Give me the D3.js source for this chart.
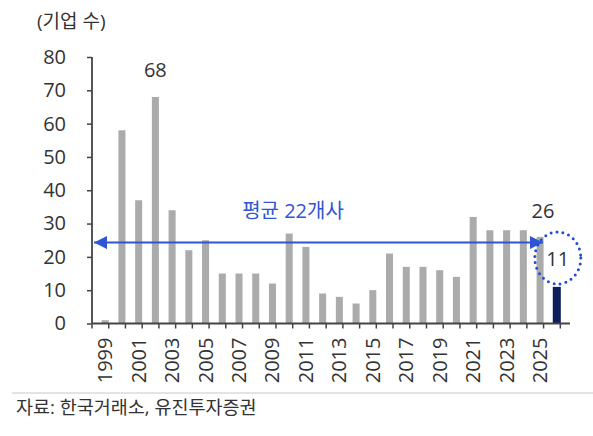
<!DOCTYPE html>
<html>
<head>
<meta charset="utf-8">
<script src="https://cdn.jsdelivr.net/npm/d3@7"></script>
<style>
  body { margin: 0; background: #fff; }
  svg text { font-family: "Open Sans", "Noto Sans CJK KR", sans-serif; }
</style>
</head>
<body>
<div id="chart"></div>
<script>
// 연도별 기업 수
var years = [1999,2000,2001,2002,2003,2004,2005,2006,2007,2008,2009,2010,2011,2012,
             2013,2014,2015,2016,2017,2018,2019,2020,2021,2022,2023,2024,2025,2026];
var counts = [1,58,37,68,34,22,25,15,15,15,12,27,23,9,
              8,6,10,21,17,17,16,14,32,28,28,28,26,11];
var yTicks = [0,10,20,30,40,50,60,70,80];
var xLabels = [1999,2001,2003,2005,2007,2009,2011,2013,2015,2017,2019,2021,2023,2025];
var avgLabel = '평균 22개사';
var avgLine = 24.3;   // 화살표 위치
var labeled = [2002, 2025];

var width = 593, height = 436;
var x0 = 92, x1 = 570, yTop = 57, yBot = 323.5;
var hangul = "'Noto Sans CJK KR', sans-serif";

var svg = d3.select("#chart").append("svg")
    .attr("width", width)
    .attr("height", height);

var x = d3.scaleBand().domain(years).range([x0, x1]).padding(0.58);
var y = d3.scaleLinear().domain([0, 80]).range([yBot, yTop]);

svg.append("text")
    .attr("x", 37).attr("y", 28)
    .attr("font-size", 19).attr("fill", "#333")
    .attr("font-family", hangul)
    .text("(기업 수)");

// bars
svg.selectAll("rect.bar")
    .data(years)
    .enter().append("rect")
    .attr("class", "bar")
    .attr("x", (d, i) => i == years.length - 1 ? x(d) - 0.5 : x(d))
    .attr("width", (d, i) => i == years.length - 1 ? x.bandwidth() + 1 : x.bandwidth())
    .attr("y", (d, i) => y(counts[i]))
    .attr("height", (d, i) => y(0) - y(counts[i]))
    .attr("fill", (d, i) => i == years.length - 1 ? "#0b1f5a" : "#ababab");

// y axis
var yAxis = svg.append("g")
    .attr("transform", `translate(${x0},0)`)
    .call(d3.axisLeft(y).tickValues(yTicks).tickSize(5).tickPadding(21));
yAxis.select(".domain").attr("stroke", "#444").attr("stroke-width", 1.8)
    .attr("d", `M0,${yTop}V${yBot}`);
yAxis.selectAll(".tick line").attr("stroke", "#444").attr("stroke-width", 1.5);
yAxis.selectAll(".tick text").attr("font-size", 20).attr("fill", "#333")
    .attr("font-family", "'Open Sans', sans-serif");

// x axis: ticks at band edges
var step = x.step();
var edges = d3.range(years.length + 1).map(i => x0 + i * step);
var xg = svg.append("g");
xg.append("line")
    .attr("x1", x0).attr("x2", x1)
    .attr("y1", yBot).attr("y2", yBot)
    .attr("stroke", "#444").attr("stroke-width", 1.8);
xg.selectAll("line.t").data(edges).enter().append("line")
    .attr("class", "t")
    .attr("x1", d => d).attr("x2", d => d)
    .attr("y1", yBot).attr("y2", yBot + 5)
    .attr("stroke", "#444").attr("stroke-width", 1.5);
xg.selectAll("text").data(xLabels).enter().append("text")
    .attr("transform", d => `translate(${x(d) + x.bandwidth() / 2 + 7},${yBot + 14}) rotate(-90)`)
    .attr("text-anchor", "end")
    .attr("font-size", 20).attr("fill", "#333")
    .text(d => d);

// value labels
svg.selectAll("text.val").data(labeled).enter().append("text")
    .attr("class", "val")
    .attr("x", d => x(d) + x.bandwidth() / 2 + (d == 2025 ? 3 : 0))
    .attr("y", d => y(counts[years.indexOf(d)]) - (d == 2025 ? 19 : 20))
    .attr("text-anchor", "middle")
    .attr("font-size", 20).attr("fill", "#333")
    .text(d => counts[years.indexOf(d)]);

// average arrow
var blue = "#2f55d4";
var defs = svg.append("defs");
["s", "e"].forEach(function (k) {
  defs.append("marker")
      .attr("id", "arr-" + k)
      .attr("viewBox", "0 0 10 10")
      .attr("refX", 10).attr("refY", 5)
      .attr("markerWidth", 8).attr("markerHeight", 6.5)
      .attr("markerUnits", "strokeWidth")
      .attr("orient", k == "s" ? "auto-start-reverse" : "auto")
      .append("path").attr("d", "M0,0L10,5L0,10Z").attr("fill", blue);
});
svg.append("line")
    .attr("x1", x0 + 2).attr("x2", 543)
    .attr("y1", y(avgLine)).attr("y2", y(avgLine))
    .attr("stroke", blue).attr("stroke-width", 2)
    .attr("marker-start", "url(#arr-s)")
    .attr("marker-end", "url(#arr-e)");
svg.append("text")
    .attr("x", 293).attr("y", 218)
    .attr("text-anchor", "middle")
    .attr("font-size", 20).attr("fill", blue)
    .attr("font-family", hangul)
    .text(avgLabel);

// highlight 2026
var last = years[years.length - 1];
var cx = x(last) + x.bandwidth() / 2;
svg.append("ellipse")
    .attr("cx", cx + 1).attr("cy", 258)
    .attr("rx", 23).attr("ry", 26)
    .attr("fill", "none")
    .attr("stroke", "#1f4fd0").attr("stroke-width", 3)
    .attr("stroke-linecap", "round")
    .attr("stroke-dasharray", "0 6");
svg.append("text")
    .attr("x", cx + 1).attr("y", 266)
    .attr("text-anchor", "middle")
    .attr("font-size", 20).attr("fill", "#333")
    .text(counts[counts.length - 1]);

// source
svg.append("line")
    .attr("x1", 12).attr("x2", width)
    .attr("y1", 393).attr("y2", 393)
    .attr("stroke", "#c8c8c8").attr("stroke-width", 1);
svg.append("text")
    .attr("x", 16).attr("y", 414)
    .attr("font-size", 18.5).attr("fill", "#333")
    .attr("font-family", hangul)
    .text("자료: 한국거래소, 유진투자증권");
</script>
</body>
</html>
